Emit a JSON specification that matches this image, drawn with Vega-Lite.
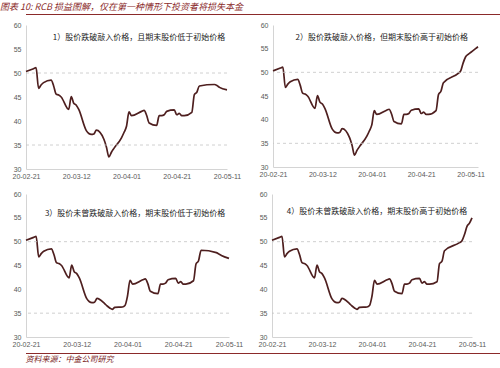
{
  "$schema": "https://vega.github.io/schema/vega-lite/v6.json",
  "padding": {"left": 0, "top": 2, "right": 0, "bottom": 0},
  "bounds": "full",
  "spacing": 5,
  "title": {"text": "图表 10: RCB 损益图解，仅在第一种情形下投资者将损失本金", "anchor": "start", "frame": "bounds", "font": "Noto Sans CJK SC", "fontSize": 9, "fontStyle": "italic", "fontWeight": "normal", "color": "#8b2a2a", "offset": 2},
  "config": {
    "view": {"stroke": null},
    "axis": {"ticks": false, "grid": false, "labelFont": "Liberation Sans", "labelFontSize": 7, "labelColor": "#595959", "domainColor": "#d4d4d4", "domainWidth": 1, "labelOverlap": false},
    "axisY": {"tickCount": 7, "labelPadding": 5}
  },
  "datasets": {
    "prices": [
      {"p":1,"d":"2020-02-21","v":50.3},{"p":1,"d":"2020-02-24","v":50.9},{"p":1,"d":"2020-02-25","v":51.1},{"p":1,"d":"2020-02-26","v":46.8},{"p":1,"d":"2020-02-27","v":47.5},{"p":1,"d":"2020-02-28","v":48.0},{"p":1,"d":"2020-03-02","v":48.5},{"p":1,"d":"2020-03-03","v":47.3},{"p":1,"d":"2020-03-04","v":45.6},{"p":1,"d":"2020-03-05","v":45.4},{"p":1,"d":"2020-03-06","v":45.0},{"p":1,"d":"2020-03-09","v":42.4},{"p":1,"d":"2020-03-10","v":45.1},{"p":1,"d":"2020-03-11","v":43.7},{"p":1,"d":"2020-03-12","v":43.3},{"p":1,"d":"2020-03-13","v":42.4},{"p":1,"d":"2020-03-16","v":38.0},{"p":1,"d":"2020-03-17","v":37.4},{"p":1,"d":"2020-03-18","v":37.2},{"p":1,"d":"2020-03-19","v":37.3},{"p":1,"d":"2020-03-20","v":38.1},
      {"p":1,"d":"2020-03-23","v":36.2},{"p":1,"d":"2020-03-24","v":34.6},{"p":1,"d":"2020-03-25","v":32.5},{"p":1,"d":"2020-03-26","v":33.5},{"p":1,"d":"2020-03-27","v":34.3},{"p":1,"d":"2020-03-30","v":36.5},{"p":1,"d":"2020-03-31","v":37.6},{"p":1,"d":"2020-04-01","v":38.9},
      {"p":1,"d":"2020-04-02","v":41.9},{"p":1,"d":"2020-04-03","v":41.1},{"p":1,"d":"2020-04-07","v":42.0},{"p":1,"d":"2020-04-08","v":42.2},{"p":1,"d":"2020-04-09","v":41.2},{"p":1,"d":"2020-04-10","v":39.6},{"p":1,"d":"2020-04-13","v":39.1},{"p":1,"d":"2020-04-14","v":41.1},{"p":1,"d":"2020-04-15","v":41.1},{"p":1,"d":"2020-04-16","v":41.3},{"p":1,"d":"2020-04-17","v":42.0},{"p":1,"d":"2020-04-20","v":42.3},{"p":1,"d":"2020-04-21","v":41.3},{"p":1,"d":"2020-04-22","v":41.6},{"p":1,"d":"2020-04-23","v":41.1},{"p":1,"d":"2020-04-24","v":41.1},
      {"p":1,"d":"2020-04-27","v":41.8},{"p":1,"d":"2020-04-28","v":45.5},{"p":1,"d":"2020-04-29","v":46.0},{"p":1,"d":"2020-04-30","v":47.3},{"p":1,"d":"2020-05-06","v":47.6},{"p":1,"d":"2020-05-07","v":47.4},{"p":1,"d":"2020-05-08","v":47.0},{"p":1,"d":"2020-05-11","v":46.5},

      {"p":2,"d":"2020-02-21","v":50.3},{"p":2,"d":"2020-02-24","v":50.9},{"p":2,"d":"2020-02-25","v":51.1},{"p":2,"d":"2020-02-26","v":46.8},{"p":2,"d":"2020-02-27","v":47.5},{"p":2,"d":"2020-02-28","v":48.0},{"p":2,"d":"2020-03-02","v":48.5},{"p":2,"d":"2020-03-03","v":47.3},{"p":2,"d":"2020-03-04","v":45.6},{"p":2,"d":"2020-03-05","v":45.4},{"p":2,"d":"2020-03-06","v":45.0},{"p":2,"d":"2020-03-09","v":42.4},{"p":2,"d":"2020-03-10","v":45.1},{"p":2,"d":"2020-03-11","v":43.7},{"p":2,"d":"2020-03-12","v":43.3},{"p":2,"d":"2020-03-13","v":42.4},{"p":2,"d":"2020-03-16","v":38.0},{"p":2,"d":"2020-03-17","v":37.4},{"p":2,"d":"2020-03-18","v":37.2},{"p":2,"d":"2020-03-19","v":37.3},{"p":2,"d":"2020-03-20","v":38.1},
      {"p":2,"d":"2020-03-23","v":36.2},{"p":2,"d":"2020-03-24","v":34.6},{"p":2,"d":"2020-03-25","v":32.5},{"p":2,"d":"2020-03-26","v":33.5},{"p":2,"d":"2020-03-27","v":34.3},{"p":2,"d":"2020-03-30","v":36.5},{"p":2,"d":"2020-03-31","v":37.6},{"p":2,"d":"2020-04-01","v":38.9},
      {"p":2,"d":"2020-04-02","v":41.9},{"p":2,"d":"2020-04-03","v":41.1},{"p":2,"d":"2020-04-07","v":42.0},{"p":2,"d":"2020-04-08","v":42.2},{"p":2,"d":"2020-04-09","v":41.2},{"p":2,"d":"2020-04-10","v":39.6},{"p":2,"d":"2020-04-13","v":39.1},{"p":2,"d":"2020-04-14","v":41.1},{"p":2,"d":"2020-04-15","v":41.1},{"p":2,"d":"2020-04-16","v":41.3},{"p":2,"d":"2020-04-17","v":42.0},{"p":2,"d":"2020-04-20","v":42.3},{"p":2,"d":"2020-04-21","v":41.3},{"p":2,"d":"2020-04-22","v":41.6},{"p":2,"d":"2020-04-23","v":41.1},{"p":2,"d":"2020-04-24","v":41.1},
      {"p":2,"d":"2020-04-27","v":41.9},{"p":2,"d":"2020-04-28","v":45.3},{"p":2,"d":"2020-04-29","v":46.0},{"p":2,"d":"2020-04-30","v":47.8},{"p":2,"d":"2020-05-06","v":49.8},{"p":2,"d":"2020-05-07","v":50.3},{"p":2,"d":"2020-05-08","v":52.0},{"p":2,"d":"2020-05-09","v":53.3},{"p":2,"d":"2020-05-10","v":53.8},{"p":2,"d":"2020-05-11","v":54.2},{"p":2,"d":"2020-05-12","v":54.6},{"p":2,"d":"2020-05-13","v":55.0},{"p":2,"d":"2020-05-14","v":55.4},

      {"p":3,"d":"2020-02-21","v":50.3},{"p":3,"d":"2020-02-24","v":50.9},{"p":3,"d":"2020-02-25","v":51.1},{"p":3,"d":"2020-02-26","v":46.8},{"p":3,"d":"2020-02-27","v":47.5},{"p":3,"d":"2020-02-28","v":48.0},{"p":3,"d":"2020-03-02","v":48.5},{"p":3,"d":"2020-03-03","v":47.3},{"p":3,"d":"2020-03-04","v":45.6},{"p":3,"d":"2020-03-05","v":45.4},{"p":3,"d":"2020-03-06","v":45.0},{"p":3,"d":"2020-03-09","v":42.4},{"p":3,"d":"2020-03-10","v":45.1},{"p":3,"d":"2020-03-11","v":43.7},{"p":3,"d":"2020-03-12","v":43.3},{"p":3,"d":"2020-03-13","v":42.4},{"p":3,"d":"2020-03-16","v":38.0},{"p":3,"d":"2020-03-17","v":37.4},{"p":3,"d":"2020-03-18","v":37.2},{"p":3,"d":"2020-03-19","v":37.3},{"p":3,"d":"2020-03-20","v":38.1},
      {"p":3,"d":"2020-03-23","v":37.0},{"p":3,"d":"2020-03-24","v":36.5},{"p":3,"d":"2020-03-25","v":36.1},{"p":3,"d":"2020-03-26","v":35.8},{"p":3,"d":"2020-03-27","v":36.2},{"p":3,"d":"2020-03-30","v":36.3},{"p":3,"d":"2020-03-31","v":36.6},{"p":3,"d":"2020-04-01","v":38.6},
      {"p":3,"d":"2020-04-02","v":41.9},{"p":3,"d":"2020-04-03","v":41.1},{"p":3,"d":"2020-04-07","v":42.0},{"p":3,"d":"2020-04-08","v":42.2},{"p":3,"d":"2020-04-09","v":41.2},{"p":3,"d":"2020-04-10","v":39.6},{"p":3,"d":"2020-04-13","v":39.1},{"p":3,"d":"2020-04-14","v":41.1},{"p":3,"d":"2020-04-15","v":41.1},{"p":3,"d":"2020-04-16","v":41.3},{"p":3,"d":"2020-04-17","v":42.0},{"p":3,"d":"2020-04-20","v":42.3},{"p":3,"d":"2020-04-21","v":41.3},{"p":3,"d":"2020-04-22","v":41.6},{"p":3,"d":"2020-04-23","v":41.1},{"p":3,"d":"2020-04-24","v":41.1},
      {"p":3,"d":"2020-04-27","v":41.8},{"p":3,"d":"2020-04-28","v":45.3},{"p":3,"d":"2020-04-29","v":46.0},{"p":3,"d":"2020-04-30","v":48.2},{"p":3,"d":"2020-05-06","v":47.7},{"p":3,"d":"2020-05-07","v":47.4},{"p":3,"d":"2020-05-08","v":47.1},{"p":3,"d":"2020-05-11","v":46.5},

      {"p":4,"d":"2020-02-21","v":50.3},{"p":4,"d":"2020-02-24","v":50.9},{"p":4,"d":"2020-02-25","v":51.1},{"p":4,"d":"2020-02-26","v":46.8},{"p":4,"d":"2020-02-27","v":47.5},{"p":4,"d":"2020-02-28","v":48.0},{"p":4,"d":"2020-03-02","v":48.5},{"p":4,"d":"2020-03-03","v":47.3},{"p":4,"d":"2020-03-04","v":45.6},{"p":4,"d":"2020-03-05","v":45.4},{"p":4,"d":"2020-03-06","v":45.0},{"p":4,"d":"2020-03-09","v":42.4},{"p":4,"d":"2020-03-10","v":45.1},{"p":4,"d":"2020-03-11","v":43.7},{"p":4,"d":"2020-03-12","v":43.3},{"p":4,"d":"2020-03-13","v":42.4},{"p":4,"d":"2020-03-16","v":38.0},{"p":4,"d":"2020-03-17","v":37.4},{"p":4,"d":"2020-03-18","v":37.2},{"p":4,"d":"2020-03-19","v":37.3},{"p":4,"d":"2020-03-20","v":38.1},
      {"p":4,"d":"2020-03-23","v":37.0},{"p":4,"d":"2020-03-24","v":36.5},{"p":4,"d":"2020-03-25","v":36.1},{"p":4,"d":"2020-03-26","v":35.8},{"p":4,"d":"2020-03-27","v":36.2},{"p":4,"d":"2020-03-30","v":36.3},{"p":4,"d":"2020-03-31","v":36.6},{"p":4,"d":"2020-04-01","v":38.6},
      {"p":4,"d":"2020-04-02","v":41.9},{"p":4,"d":"2020-04-03","v":41.1},{"p":4,"d":"2020-04-07","v":42.0},{"p":4,"d":"2020-04-08","v":42.2},{"p":4,"d":"2020-04-09","v":41.2},{"p":4,"d":"2020-04-10","v":39.6},{"p":4,"d":"2020-04-13","v":39.1},{"p":4,"d":"2020-04-14","v":41.1},{"p":4,"d":"2020-04-15","v":41.1},{"p":4,"d":"2020-04-16","v":41.3},{"p":4,"d":"2020-04-17","v":42.0},{"p":4,"d":"2020-04-20","v":42.3},{"p":4,"d":"2020-04-21","v":41.3},{"p":4,"d":"2020-04-22","v":41.6},{"p":4,"d":"2020-04-23","v":41.1},{"p":4,"d":"2020-04-24","v":41.1},
      {"p":4,"d":"2020-04-27","v":41.6},{"p":4,"d":"2020-04-28","v":45.4},{"p":4,"d":"2020-04-29","v":45.9},{"p":4,"d":"2020-04-30","v":48.1},{"p":4,"d":"2020-05-06","v":49.8},{"p":4,"d":"2020-05-07","v":50.2},{"p":4,"d":"2020-05-08","v":51.5},{"p":4,"d":"2020-05-09","v":53.2},{"p":4,"d":"2020-05-10","v":53.9},{"p":4,"d":"2020-05-11","v":55.0}
    ],
    "one": [{"a": 0}]
  },
  "vconcat": [
    {
      "width": 498, "height": 1,
      "data": {"name": "one"},
      "mark": {"type": "rule", "color": "#8b2a2a", "strokeWidth": 1.2},
      "encoding": {"y": {"datum": 0.5, "type": "quantitative", "scale": {"domain": [0, 1]}, "axis": null}}
    },
    {
      "bounds": "full",
      "spacing": 11,
      "vconcat": [
        {
          "bounds": "flush",
          "spacing": 46,
          "hconcat": [
            {
              "width": 201, "height": 144,
              "layer": [
                {
                  "data": {"name": "prices"},
                  "transform": [{"filter": "datum.p == 1"}],
                  "mark": {"type": "line", "color": "#4e1f1f", "strokeWidth": 1.7, "interpolate": "monotone"},
                  "encoding": {
                    "x": {"field": "d", "type": "temporal", "title": null, "scale": {"domain": [{"year": 2020, "month": 2, "date": 21}, {"year": 2020, "month": 5, "date": 11}], "nice": false},
                      "axis": {"values": [{"year": 2020, "month": 2, "date": 21}, {"year": 2020, "month": 3, "date": 12}, {"year": 2020, "month": 4, "date": 1}, {"year": 2020, "month": 4, "date": 21}, {"year": 2020, "month": 5, "date": 11}], "format": "%y-%m-%d", "labelPadding": 3, "labelFlush": false, "labelOverlap": false}},
                    "y": {"field": "v", "type": "quantitative", "title": null, "scale": {"domain": [30, 60], "nice": false, "zero": false},
                      "axis": {"values": [30, 35, 40, 45, 50, 55, 60], "tickCount": 7, "minExtent": 26, "labelOverlap": false}}
                  }
                },
                {"data": {"name": "one"}, "mark": {"type": "rule", "color": "#c4c4c4", "strokeDash": [3, 3], "strokeWidth": 0.8}, "encoding": {"y": {"datum": 50, "type": "quantitative", "title": null, "axis": {"values": [30, 35, 40, 45, 50, 55, 60], "tickCount": 7, "minExtent": 26, "labelOverlap": false}}}},
                {"data": {"name": "one"}, "mark": {"type": "rule", "color": "#c4c4c4", "strokeDash": [3, 3], "strokeWidth": 0.8}, "encoding": {"y": {"datum": 35, "type": "quantitative", "title": null, "axis": {"values": [30, 35, 40, 45, 50, 55, 60], "tickCount": 7, "minExtent": 26, "labelOverlap": false}}}},
                {"data": {"name": "one"}, "mark": {"type": "text", "font": "Noto Sans CJK SC", "fontSize": 8, "color": "#222222", "align": "center", "baseline": "middle"},
                  "encoding": {"x": {"datum": {"year": 2020, "month": 4, "date": 6}, "type": "temporal", "title": null}, "y": {"datum": 57.3, "type": "quantitative", "title": null, "axis": {"values": [30, 35, 40, 45, 50, 55, 60], "tickCount": 7, "minExtent": 26, "labelOverlap": false}}, "text": {"value": "1）股价跌破敲入价格，且期末股价低于初始价格"}}}
              ]
            },
            {
              "width": 205, "height": 142,
              "layer": [
                {
                  "data": {"name": "prices"},
                  "transform": [{"filter": "datum.p == 2"}],
                  "mark": {"type": "line", "color": "#4e1f1f", "strokeWidth": 1.7, "interpolate": "monotone"},
                  "encoding": {
                    "x": {"field": "d", "type": "temporal", "title": null, "scale": {"domain": [{"year": 2020, "month": 2, "date": 21}, {"year": 2020, "month": 5, "date": 14}], "nice": false},
                      "axis": {"values": [{"year": 2020, "month": 2, "date": 21}, {"year": 2020, "month": 3, "date": 12}, {"year": 2020, "month": 4, "date": 1}, {"year": 2020, "month": 4, "date": 21}, {"year": 2020, "month": 5, "date": 11}], "format": "%y-%m-%d", "labelPadding": 3, "labelFlush": false, "labelOverlap": false}},
                    "y": {"field": "v", "type": "quantitative", "title": null, "scale": {"domain": [30, 60], "nice": false, "zero": false},
                      "axis": {"values": [30, 35, 40, 45, 50, 55, 60], "tickCount": 7, "labelOverlap": false}}
                  }
                },
                {"data": {"name": "one"}, "mark": {"type": "rule", "color": "#c4c4c4", "strokeDash": [3, 3], "strokeWidth": 0.8}, "encoding": {"y": {"datum": 50, "type": "quantitative", "title": null, "axis": {"values": [30, 35, 40, 45, 50, 55, 60], "tickCount": 7, "labelOverlap": false}}}},
                {"data": {"name": "one"}, "mark": {"type": "rule", "color": "#c4c4c4", "strokeDash": [3, 3], "strokeWidth": 0.8}, "encoding": {"y": {"datum": 35, "type": "quantitative", "title": null, "axis": {"values": [30, 35, 40, 45, 50, 55, 60], "tickCount": 7, "labelOverlap": false}}}},
                {"data": {"name": "one"}, "mark": {"type": "text", "font": "Noto Sans CJK SC", "fontSize": 8, "color": "#222222", "align": "center", "baseline": "middle"},
                  "encoding": {"x": {"datum": {"year": 2020, "month": 4, "date": 5}, "type": "temporal", "title": null}, "y": {"datum": 57.3, "type": "quantitative", "title": null, "axis": {"values": [30, 35, 40, 45, 50, 55, 60], "tickCount": 7, "labelOverlap": false}}, "text": {"value": "2）股价跌破敲入价格，但期末股价高于初始价格"}}}
              ]
            }
          ]
        },
        {
          "bounds": "flush",
          "spacing": 43,
          "hconcat": [
            {
              "width": 203, "height": 143,
              "layer": [
                {
                  "data": {"name": "prices"},
                  "transform": [{"filter": "datum.p == 3"}],
                  "mark": {"type": "line", "color": "#4e1f1f", "strokeWidth": 1.7, "interpolate": "monotone"},
                  "encoding": {
                    "x": {"field": "d", "type": "temporal", "title": null, "scale": {"domain": [{"year": 2020, "month": 2, "date": 21}, {"year": 2020, "month": 5, "date": 11}], "nice": false},
                      "axis": {"values": [{"year": 2020, "month": 2, "date": 21}, {"year": 2020, "month": 3, "date": 12}, {"year": 2020, "month": 4, "date": 1}, {"year": 2020, "month": 4, "date": 21}, {"year": 2020, "month": 5, "date": 11}], "format": "%y-%m-%d", "labelPadding": 3, "labelFlush": false, "labelOverlap": false}},
                    "y": {"field": "v", "type": "quantitative", "title": null, "scale": {"domain": [30, 60], "nice": false, "zero": false},
                      "axis": {"values": [30, 35, 40, 45, 50, 55, 60], "tickCount": 7, "minExtent": 26, "labelOverlap": false}}
                  }
                },
                {"data": {"name": "one"}, "mark": {"type": "rule", "color": "#c4c4c4", "strokeDash": [3, 3], "strokeWidth": 0.8}, "encoding": {"y": {"datum": 50, "type": "quantitative", "title": null, "axis": {"values": [30, 35, 40, 45, 50, 55, 60], "tickCount": 7, "minExtent": 26, "labelOverlap": false}}}},
                {"data": {"name": "one"}, "mark": {"type": "rule", "color": "#c4c4c4", "strokeDash": [3, 3], "strokeWidth": 0.8}, "encoding": {"y": {"datum": 35, "type": "quantitative", "title": null, "axis": {"values": [30, 35, 40, 45, 50, 55, 60], "tickCount": 7, "minExtent": 26, "labelOverlap": false}}}},
                {"data": {"name": "one"}, "mark": {"type": "text", "font": "Noto Sans CJK SC", "fontSize": 8, "color": "#222222", "align": "center", "baseline": "middle"},
                  "encoding": {"x": {"datum": {"year": 2020, "month": 4, "date": 4}, "type": "temporal", "title": null}, "y": {"datum": 55.8, "type": "quantitative", "title": null, "axis": {"values": [30, 35, 40, 45, 50, 55, 60], "tickCount": 7, "minExtent": 26, "labelOverlap": false}}, "text": {"value": "3）股价未曾跌破敲入价格，期末股价低于初始价格"}}}
              ]
            },
            {
              "width": 200, "height": 143,
              "layer": [
                {
                  "data": {"name": "prices"},
                  "transform": [{"filter": "datum.p == 4"}],
                  "mark": {"type": "line", "color": "#4e1f1f", "strokeWidth": 1.7, "interpolate": "monotone"},
                  "encoding": {
                    "x": {"field": "d", "type": "temporal", "title": null, "scale": {"domain": [{"year": 2020, "month": 2, "date": 21}, {"year": 2020, "month": 5, "date": 11}], "nice": false},
                      "axis": {"values": [{"year": 2020, "month": 2, "date": 21}, {"year": 2020, "month": 3, "date": 12}, {"year": 2020, "month": 4, "date": 1}, {"year": 2020, "month": 4, "date": 21}, {"year": 2020, "month": 5, "date": 11}], "format": "%y-%m-%d", "labelPadding": 3, "labelFlush": false, "labelOverlap": false}},
                    "y": {"field": "v", "type": "quantitative", "title": null, "scale": {"domain": [30, 60], "nice": false, "zero": false},
                      "axis": {"values": [30, 35, 40, 45, 50, 55, 60], "tickCount": 7, "labelOverlap": false}}
                  }
                },
                {"data": {"name": "one"}, "mark": {"type": "rule", "color": "#c4c4c4", "strokeDash": [3, 3], "strokeWidth": 0.8}, "encoding": {"y": {"datum": 50, "type": "quantitative", "title": null, "axis": {"values": [30, 35, 40, 45, 50, 55, 60], "tickCount": 7, "labelOverlap": false}}}},
                {"data": {"name": "one"}, "mark": {"type": "rule", "color": "#c4c4c4", "strokeDash": [3, 3], "strokeWidth": 0.8}, "encoding": {"y": {"datum": 35, "type": "quantitative", "title": null, "axis": {"values": [30, 35, 40, 45, 50, 55, 60], "tickCount": 7, "labelOverlap": false}}}},
                {"data": {"name": "one"}, "mark": {"type": "text", "font": "Noto Sans CJK SC", "fontSize": 8, "color": "#222222", "align": "center", "baseline": "middle"},
                  "encoding": {"x": {"datum": {"year": 2020, "month": 4, "date": 3}, "type": "temporal", "title": null}, "y": {"datum": 56.2, "type": "quantitative", "title": null, "axis": {"values": [30, 35, 40, 45, 50, 55, 60], "tickCount": 7, "labelOverlap": false}}, "text": {"value": "4）股价未曾跌破敲入价格，期末股价高于初始价格"}}}
              ]
            }
          ]
        }
      ]
    },
    {
      "width": 498, "height": 1,
      "data": {"name": "one"},
      "title": {"text": "资料来源：中金公司研究", "orient": "bottom", "anchor": "start", "frame": "bounds", "font": "Noto Sans CJK SC", "fontSize": 8, "fontStyle": "italic", "fontWeight": "normal", "color": "#7a2525", "offset": 2},
      "mark": {"type": "rule", "color": "#8b2a2a", "strokeWidth": 1.2},
      "encoding": {"y": {"datum": 0.5, "type": "quantitative", "scale": {"domain": [0, 1]}, "axis": null}}
    }
  ]
}
